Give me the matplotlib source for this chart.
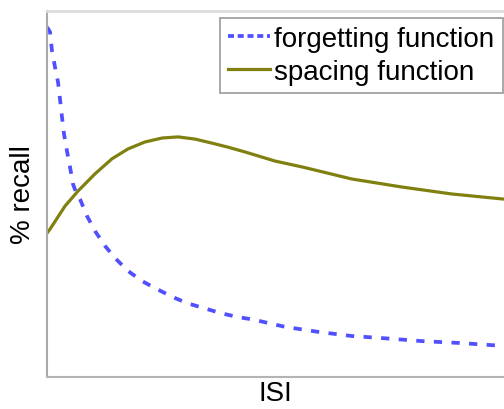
import matplotlib.pyplot as plt
from matplotlib.lines import Line2D

plt.rcParams['font.family'] = ['Liberation Sans', 'DejaVu Sans']

# ISI (arbitrary units) and % recall
forget_x = [0, 0.66, 1.09, 1.75, 2.41, 2.84, 3.28, 3.72, 4.38, 5.03, 5.69, 6.35, 7.22,
            8.75, 10.5, 12.7, 14.9, 17.7, 20.8, 24.1, 27.4, 30.6, 34.1, 37.9, 41.6,
            45.1, 52.1, 59.5, 66.7, 74.8, 82.1, 90.2, 97.4, 100]
forget_y = [95.6, 94.3, 89.1, 84.7, 80.6, 76.0, 71.0, 66.4, 61.7, 57.4, 52.7, 50.5, 48.6,
            44.0, 39.9, 35.8, 32.5, 29.0, 26.2, 24.0, 21.9, 20.2, 18.9, 17.5, 16.4,
            15.7, 13.7, 12.3, 11.2, 10.5, 9.8, 9.3, 8.7, 8.5]

space_x = [0, 0.66, 3.94, 6.78, 10.5, 14.2, 17.7, 21.4, 25.2, 28.7, 32.4, 36.1,
           39.6, 43.3, 49.9, 55.8, 66.7, 77.7, 88.6, 100]
space_y = [39.3, 40.4, 46.7, 50.8, 55.5, 59.6, 62.3, 64.2, 65.3, 65.6, 65.0, 63.9,
           62.8, 61.5, 59.0, 57.4, 54.1, 51.9, 50.0, 48.6]

blue = '#5050ff'
olive = '#808010'

fig = plt.figure(figsize=(5.04, 4.10), dpi=100)
ax = fig.add_axes([47/504, 32/410, 457/504, 366/410])

ax.plot(forget_x, forget_y, color=blue, lw=2.7, linestyle=(0, (2.2, 2.5)))
ax.plot(space_x, space_y, color=olive, lw=2.3)

ax.set_xlim(0, 100)
ax.set_ylim(0, 100)
ax.set_xticks([])
ax.set_yticks([])

ax.spines['right'].set_visible(False)
ax.spines['top'].set_color('#dddddd')
ax.spines['top'].set_linewidth(2)
ax.spines['left'].set_color('#aaaaaa')
ax.spines['left'].set_linewidth(1.5)
ax.spines['bottom'].set_color('#b4b4b4')
ax.spines['bottom'].set_linewidth(1.5)

ax.set_xlabel('ISI', fontsize=20, labelpad=2)
ax.set_ylabel('% recall', fontsize=20, labelpad=8)

handles = [Line2D([], [], color=blue, lw=2.7, linestyle=(0, (1.6, 1.0))),
           Line2D([], [], color=olive, lw=2.3)]
leg = ax.legend(handles, ['forgetting function', 'spacing function'],
                loc='upper right', bbox_to_anchor=(0.997, 0.982), borderaxespad=0,
                fontsize=20, handlelength=1.5, handletextpad=0.15,
                labelspacing=0.25, borderpad=0.3, fancybox=False, framealpha=1)
leg.get_frame().set_edgecolor('#999999')
leg.get_frame().set_linewidth(1.2)

fig.savefig('out.png', dpi=100)
